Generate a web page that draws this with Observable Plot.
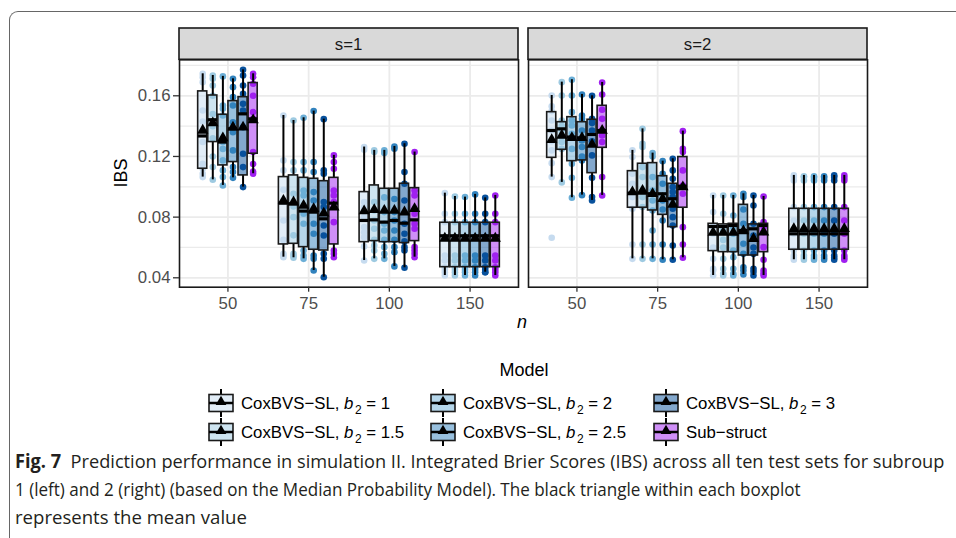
<!DOCTYPE html>
<html><head><meta charset="utf-8">
<script src="https://cdn.jsdelivr.net/npm/d3@7"></script>
<script src="https://cdn.jsdelivr.net/npm/@observablehq/plot@0.6"></script>
<style>
body{margin:0;background:#fff;}
#wrap{position:relative;width:956px;height:538px;overflow:hidden;font-family:"Liberation Sans",Arial,sans-serif;}
#frame{position:absolute;left:8.5px;top:11px;width:1100px;height:700px;border-top:1.4px solid #666;border-left:1.4px solid #666;border-top-left-radius:9px;}
#chart{position:absolute;left:0;top:0;}
#overlay{position:absolute;left:0;top:0;}
</style></head>
<body><div id="wrap"><div id="frame"></div><div id="chart"></div>
<svg id="overlay" width="956" height="538"></svg></div>
<script>
// ---------- data ----------
const facets = ["s=1", "s=2"];
const nLevels = ["50", "75", "100", "150"];
const models = ["1", "1.5", "2", "2.5", "3", "Sub-struct"];
const pointColors = ["#c6dbef", "#9ecae1", "#6baed6", "#3182bd", "#08519c", "#a020f0"];

// rows: (s=1: n=50,75,100,150), (s=2: n=50,75,100,150); columns: models
const boxLow = [
  [0.1064, 0.1046, 0.1009, 0.1059, 0.0998, 0.1086],
  [0.0536, 0.0532, 0.0525, 0.0448, 0.0404, 0.0536],
  [0.0514, 0.0525, 0.0525, 0.0475, 0.0466, 0.0536],
  [0.0415, 0.0415, 0.0415, 0.0415, 0.0437, 0.0415],
  [0.1064, 0.1029, 0.0928, 0.0945, 0.0910, 0.0943],
  [0.0525, 0.0525, 0.0525, 0.0519, 0.0519, 0.0532],
  [0.0415, 0.0415, 0.0415, 0.0422, 0.0415, 0.0415],
  [0.0519, 0.0519, 0.0519, 0.0519, 0.0519, 0.0519]
];
const boxQ1 = [
  [0.1119, 0.1295, 0.1141, 0.1163, 0.1075, 0.1218],
  [0.0620, 0.0624, 0.0602, 0.0585, 0.0580, 0.0620],
  [0.0635, 0.0642, 0.0635, 0.0635, 0.0629, 0.0642],
  [0.0470, 0.0470, 0.0470, 0.0470, 0.0470, 0.0470],
  [0.1191, 0.1244, 0.1169, 0.1174, 0.1090, 0.1257],
  [0.0862, 0.0862, 0.0844, 0.0815, 0.0734, 0.0862],
  [0.0576, 0.0569, 0.0569, 0.0547, 0.0547, 0.0569],
  [0.0585, 0.0585, 0.0585, 0.0585, 0.0585, 0.0585]
];
const boxMedian = [
  [0.1335, 0.1442, 0.1295, 0.1382, 0.1481, 0.1448],
  [0.0892, 0.0888, 0.0840, 0.0833, 0.0789, 0.0892],
  [0.0778, 0.0782, 0.0767, 0.0778, 0.0760, 0.0782],
  [0.0677, 0.0677, 0.0677, 0.0677, 0.0677, 0.0677],
  [0.1371, 0.1382, 0.1328, 0.1323, 0.1345, 0.1371],
  [0.0958, 0.0958, 0.0954, 0.0954, 0.0921, 0.1004],
  [0.0738, 0.0738, 0.0745, 0.0712, 0.0723, 0.0745],
  [0.0690, 0.0690, 0.0690, 0.0690, 0.0690, 0.0690]
];
const boxQ3 = [
  [0.1629, 0.1602, 0.1475, 0.1565, 0.1591, 0.1684],
  [0.1064, 0.1075, 0.1059, 0.1053, 0.1037, 0.1059],
  [0.0965, 0.1009, 0.0987, 0.0987, 0.1020, 0.0991],
  [0.0763, 0.0763, 0.0763, 0.0763, 0.0763, 0.0763],
  [0.1492, 0.1426, 0.1459, 0.1426, 0.1442, 0.1534],
  [0.1103, 0.1152, 0.1156, 0.1070, 0.1020, 0.1196],
  [0.0756, 0.0752, 0.0756, 0.0881, 0.0752, 0.0756],
  [0.0855, 0.0855, 0.0855, 0.0855, 0.0855, 0.0855]
];
const boxHigh = [
  [0.1745, 0.1734, 0.1728, 0.1712, 0.1771, 0.1745],
  [0.1470, 0.1437, 0.1455, 0.1499, 0.1446, 0.1207],
  [0.1262, 0.1240, 0.1240, 0.1266, 0.1284, 0.1229],
  [0.0958, 0.0936, 0.0932, 0.0950, 0.0927, 0.0943],
  [0.1602, 0.1690, 0.1706, 0.1609, 0.1600, 0.1688],
  [0.1240, 0.1382, 0.1222, 0.1169, 0.1185, 0.1367],
  [0.0943, 0.0943, 0.0943, 0.0954, 0.0943, 0.0936],
  [0.1075, 0.1075, 0.1075, 0.1075, 0.1075, 0.1075]
];
const boxMean = [
  [0.1372, 0.1420, 0.1321, 0.1393, 0.1393, 0.1440],
  [0.0910, 0.0899, 0.0877, 0.0855, 0.0826, 0.0866],
  [0.0840, 0.0848, 0.0844, 0.0844, 0.0833, 0.0855],
  [0.0660, 0.0660, 0.0660, 0.0660, 0.0660, 0.0660],
  [0.1310, 0.1339, 0.1323, 0.1323, 0.1279, 0.1371],
  [0.0965, 0.0976, 0.0954, 0.0921, 0.0884, 0.0998],
  [0.0699, 0.0699, 0.0699, 0.0708, 0.0657, 0.0701],
  [0.0723, 0.0723, 0.0723, 0.0723, 0.0723, 0.0723]
];
const ibsPoints = [
  [[0.1745,0.1723,0.1690,0.1503,0.1430,0.1295,0.1152,0.1119,0.1086,0.1064],
   [0.1734,0.1712,0.1668,0.1600,0.1480,0.1400,0.1320,0.1200,0.1130,0.1046],
   [0.1728,0.1536,0.1514,0.1470,0.1295,0.1250,0.1174,0.1108,0.1064,0.1009],
   [0.1712,0.1657,0.1591,0.1536,0.1426,0.1360,0.1240,0.1130,0.1097,0.1059],
   [0.1771,0.1734,0.1668,0.1613,0.1547,0.1503,0.1393,0.1218,0.1130,0.0998],
   [0.1745,0.1723,0.1679,0.1600,0.1492,0.1448,0.1229,0.1150,0.1100,0.1086]],
  [[0.1470,0.1174,0.1108,0.0980,0.0900,0.0778,0.0650,0.0558,0.0547,0.0536],
   [0.1437,0.1163,0.1108,0.0954,0.0870,0.0800,0.0680,0.0558,0.0545,0.0532],
   [0.1455,0.1163,0.1108,0.0976,0.0943,0.0822,0.0756,0.0580,0.0547,0.0525],
   [0.1499,0.1163,0.1097,0.0965,0.0910,0.0756,0.0690,0.0547,0.0525,0.0448],
   [0.1446,0.1108,0.1086,0.0899,0.0866,0.0745,0.0679,0.0558,0.0525,0.0404],
   [0.1207,0.1163,0.1119,0.0976,0.0943,0.0899,0.0767,0.0580,0.0558,0.0536]],
  [[0.1262,0.1244,0.0900,0.0866,0.0800,0.0734,0.0700,0.0668,0.0607,0.0514],
   [0.1240,0.1229,0.0900,0.0844,0.0778,0.0723,0.0650,0.0613,0.0580,0.0525],
   [0.1240,0.1222,0.0930,0.0833,0.0756,0.0712,0.0650,0.0602,0.0558,0.0525],
   [0.1266,0.1251,0.0920,0.0833,0.0778,0.0712,0.0650,0.0602,0.0569,0.0475],
   [0.1284,0.1097,0.1020,0.0910,0.0756,0.0690,0.0640,0.0602,0.0580,0.0466],
   [0.1229,0.0976,0.0943,0.0822,0.0756,0.0723,0.0602,0.0580,0.0558,0.0536]],
  [[0.0958,0.0822,0.0767,0.0668,0.0547,0.0514,0.0470,0.0453,0.0437,0.0415],
   [0.0936,0.0822,0.0767,0.0668,0.0547,0.0514,0.0470,0.0453,0.0437,0.0415],
   [0.0932,0.0822,0.0767,0.0668,0.0547,0.0514,0.0470,0.0453,0.0437,0.0415],
   [0.0950,0.0822,0.0767,0.0668,0.0547,0.0514,0.0470,0.0453,0.0437,0.0415],
   [0.0927,0.0822,0.0767,0.0668,0.0547,0.0514,0.0470,0.0453,0.0437,0.0437],
   [0.0943,0.0822,0.0767,0.0668,0.0547,0.0514,0.0470,0.0453,0.0437,0.0415]],
  [[0.1602,0.1530,0.1499,0.1437,0.1371,0.1300,0.1240,0.1156,0.1064,0.0664],
   [0.1690,0.1602,0.1437,0.1400,0.1371,0.1330,0.1295,0.1250,0.1029],
   [0.1706,0.1602,0.1492,0.1437,0.1404,0.1350,0.1250,0.1152,0.1059,0.0928],
   [0.1609,0.1470,0.1448,0.1371,0.1306,0.1262,0.1200,0.1174,0.0945],
   [0.1600,0.1448,0.1420,0.1371,0.1300,0.1207,0.1059,0.0932,0.0910],
   [0.1688,0.1609,0.1508,0.1448,0.1371,0.1339,0.1295,0.1064,0.0943]],
  [[0.1240,0.1196,0.1086,0.1020,0.0960,0.0932,0.0855,0.0620,0.0525],
   [0.1382,0.1284,0.1262,0.1130,0.1064,0.0932,0.0866,0.0620,0.0525],
   [0.1222,0.1200,0.1064,0.0976,0.0910,0.0844,0.0712,0.0620,0.0525],
   [0.1169,0.1086,0.1020,0.0910,0.0850,0.0778,0.0620,0.0519],
   [0.1185,0.1108,0.1053,0.0998,0.0965,0.0932,0.0855,0.0800,0.0745,0.0613,0.0519],
   [0.1367,0.1251,0.1229,0.1108,0.1009,0.0954,0.0734,0.0620,0.0532]],
  [[0.0943,0.0833,0.0738,0.0690,0.0600,0.0525,0.0459,0.0448,0.0415],
   [0.0943,0.0822,0.0712,0.0650,0.0600,0.0525,0.0459,0.0426,0.0415],
   [0.0943,0.0811,0.0734,0.0690,0.0580,0.0536,0.0459,0.0426,0.0415],
   [0.0954,0.0932,0.0850,0.0756,0.0624,0.0558,0.0470,0.0448,0.0422],
   [0.0943,0.0877,0.0756,0.0679,0.0600,0.0558,0.0459,0.0440,0.0415],
   [0.0936,0.0767,0.0738,0.0700,0.0602,0.0519,0.0448,0.0430,0.0415]],
  [[0.1075,0.1064,0.1042,0.0866,0.0778,0.0690,0.0580,0.0547,0.0532,0.0519],
   [0.1070,0.1064,0.1042,0.0866,0.0778,0.0690,0.0580,0.0547,0.0532,0.0519],
   [0.1070,0.1060,0.1042,0.0866,0.0778,0.0690,0.0580,0.0547,0.0532,0.0519],
   [0.1070,0.1060,0.1042,0.0866,0.0778,0.0690,0.0580,0.0547,0.0532,0.0519],
   [0.1075,0.1064,0.1042,0.0866,0.0778,0.0690,0.0580,0.0547,0.0532,0.0519],
   [0.1075,0.1060,0.1042,0.0866,0.0778,0.0690,0.0580,0.0547,0.0532,0.0519]]
];
const yTicks = [0.04, 0.08, 0.12, 0.16];
const yMinor = [0.06, 0.10, 0.14, 0.18];
const captionLines = [
  ["Fig. 7", "  Prediction performance in simulation II. Integrated Brier Scores (IBS) across all ten test sets for subroup"],
  ["", "1 (left) and 2 (right) (based on the Median Probability Model). The black triangle within each boxplot"],
  ["", "represents the mean value"]
];

// ---------- tables ----------
const slot = 0.75 / 6, boxW = slot * 0.9;
const boxes = [], points = [];
facets.forEach((s, si) => nLevels.forEach((n, ni) => models.forEach((m, mi) => {
  const r = si * 4 + ni, pos = ni + (mi - 2.5) * slot;
  boxes.push({s, model: m, pos, lo: boxLow[r][mi], q1: boxQ1[r][mi], med: boxMedian[r][mi],
              q3: boxQ3[r][mi], hi: boxHigh[r][mi], mean: boxMean[r][mi]});
  ibsPoints[r][mi].forEach(v => points.push({s, model: m, pos, v}));
})));

const font = "Liberation Sans, Arial, sans-serif";
const plot = Plot.plot({
  width: 956, height: 340,
  marginLeft: 178.5, marginRight: 88.3, marginTop: 59.3, marginBottom: 53.3,
  style: {fontFamily: font, fontSize: "16.8px", background: "transparent", overflow: "visible"},
  fx: {domain: facets, paddingInner: 0.0275, paddingOuter: 0, axis: null, label: null},
  x: {domain: [-0.6, 3.6], axis: null},
  y: {domain: [0.0338, 0.18373], axis: null},
  color: {domain: models, range: pointColors},
  marks: [
    Plot.ruleY(yMinor, {stroke: "#ebebeb", strokeWidth: 1.2}),
    Plot.ruleY(yTicks, {stroke: "#ebebeb", strokeWidth: 1.8}),
    Plot.ruleX([0, 1, 2, 3], {stroke: "#ebebeb", strokeWidth: 1.8}),
    Plot.dot(points, {x: "pos", y: "v", fx: "s", fill: "model", r: 3.3}),
    Plot.ruleX(boxes, {x: "pos", y1: "q3", y2: "hi", fx: "s", stroke: "#000", strokeWidth: 2}),
    Plot.ruleX(boxes, {x: "pos", y1: "q1", y2: "lo", fx: "s", stroke: "#000", strokeWidth: 2}),
    Plot.rect(boxes, {x1: d => d.pos - boxW / 2, x2: d => d.pos + boxW / 2, y1: "q1", y2: "q3", fx: "s",
                      fill: "model", fillOpacity: 0.5, stroke: "#1a1a1a", strokeWidth: 1.6}),
    Plot.ruleY(boxes, {y: "med", x1: d => d.pos - boxW / 2, x2: d => d.pos + boxW / 2, fx: "s",
                       stroke: "#000", strokeWidth: 3.2}),
    Plot.dot(boxes, {x: "pos", y: "mean", fx: "s", symbol: "triangle", fill: "#000", stroke: "none", r: 4.2}),
    Plot.frame({stroke: "#1a1a1a", strokeWidth: 1.6}),
    Plot.axisY(yTicks, {tickFormat: d3.format(".2f"), tickSize: 6, tickPadding: 3, fontSize: 16.8,
                        fill: "#4d4d4d", stroke: "#333", strokeWidth: 1.3, label: null}),
    Plot.axisX([0, 1, 2, 3], {tickFormat: i => nLevels[i], tickSize: 5, tickPadding: 4.5, fontSize: 16.8,
                              fill: "#4d4d4d", stroke: "#333", strokeWidth: 1.3, label: null})
  ]
});
document.getElementById("chart").appendChild(plot);

// strips and axis titles
const svg = d3.select(plot);
const fxs = plot.scale("fx");
facets.forEach(s => {
  const x0 = fxs.apply(s), bw = fxs.bandwidth;
  svg.append("rect").attr("x", x0).attr("y", 28).attr("width", bw).attr("height", 31.3)
    .attr("fill", "#d9d9d9").attr("stroke", "#1a1a1a").attr("stroke-width", 1.6);
  svg.append("text").attr("x", x0 + bw / 2).attr("y", 49.8).attr("text-anchor", "middle")
    .attr("font-family", font).attr("font-size", 16.8).attr("fill", "#1a1a1a").text(s);
});
svg.append("text").attr("transform", "translate(127,173) rotate(-90)").attr("text-anchor", "middle")
  .attr("font-family", font).attr("font-size", 18).attr("fill", "#000").text("IBS");
svg.append("text").attr("x", 522).attr("y", 328).attr("text-anchor", "middle").attr("font-style", "italic")
  .attr("font-family", font).attr("font-size", 18).attr("fill", "#000").text("n");

// ---------- legend ----------
const ov = d3.select("#overlay");
ov.append("text").attr("x", 524).attr("y", 376).attr("text-anchor", "middle")
  .attr("font-family", font).attr("font-size", 18).attr("fill", "#000").text("Model");
const colText = [241, 463, 686], rowY = [403, 432];
models.forEach((m, mi) => {
  const col = Math.floor(mi / 2), row = mi % 2;
  const tx = colText[col], cy = rowY[row], gx = tx - 32, gw = 24;
  const g = ov.append("g");
  g.append("line").attr("x1", gx + gw / 2).attr("x2", gx + gw / 2).attr("y1", cy - 14).attr("y2", cy + 14)
    .attr("stroke", "#000").attr("stroke-width", 2);
  g.append("rect").attr("x", gx).attr("y", cy - 8.5).attr("width", gw).attr("height", 17)
    .attr("fill", "#fff");
  g.append("rect").attr("x", gx).attr("y", cy - 8.5).attr("width", gw).attr("height", 17)
    .attr("fill", pointColors[mi]).attr("fill-opacity", 0.5).attr("stroke", "#1a1a1a").attr("stroke-width", 1.6);
  g.append("line").attr("x1", gx).attr("x2", gx + gw).attr("y1", cy).attr("y2", cy)
    .attr("stroke", "#000").attr("stroke-width", 2.5);
  g.append("path").attr("d", d3.symbol(d3.symbolTriangle, 50)()).attr("transform", `translate(${gx + gw / 2},${cy - 1})`)
    .attr("fill", "#000");
  const t = ov.append("text").attr("x", tx).attr("y", cy + 6).attr("font-family", font)
    .attr("font-size", 16.8).attr("fill", "#000");
  if (m === "Sub-struct") {
    t.text("Sub\u2212struct");
  } else {
    t.append("tspan").text("CoxBVS\u2212SL, ");
    t.append("tspan").attr("font-style", "italic").text("b");
    t.append("tspan").attr("font-size", 12).attr("dy", 4.5).attr("dx", 1.5).text("2");
    t.append("tspan").attr("dy", -4.5).text(" = " + m);
  }
});

// ---------- caption ----------
const capFont = "Open Sans, Noto Sans, sans-serif";
const capX = 15, capY0 = 468, capDy = 28;
const capWidths = [929, 786, 232];
const capG = ov.append("g");
const capTexts = captionLines.map((parts, i) => {
  const t = capG.append("text").attr("x", 0).attr("y", 0).attr("font-family", capFont)
    .attr("font-size", 19).attr("fill", "#231f20").attr("xml:space", "preserve")
    .attr("transform", `translate(${capX},${capY0 + i * capDy})`);
  if (parts[0]) t.append("tspan").attr("font-weight", "bold").text(parts[0]);
  t.append("tspan").text(parts[1]);
  return t;
});
function fitCaption() {
  capTexts.forEach((t, i) => {
    const w = t.node().getComputedTextLength();
    const k = capWidths[i] / w;
    t.attr("transform", `translate(${capX},${capY0 + i * capDy}) scale(${k},1)`);
  });
}
fitCaption();
if (document.fonts && document.fonts.ready) document.fonts.ready.then(fitCaption);
</script></body></html>
